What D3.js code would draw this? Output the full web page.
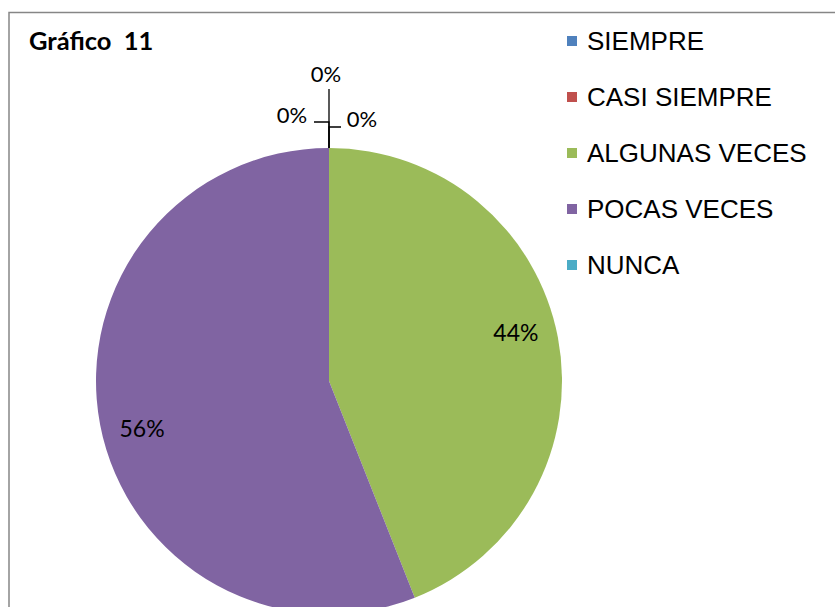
<!DOCTYPE html>
<html>
<head>
<meta charset="utf-8">
<script src="https://cdn.jsdelivr.net/npm/d3@7"></script>
<style>
  body { margin: 0; background: #fff; }
  svg { display: block; }
</style>
</head>
<body>
<div id="chart"></div>
<script>
// Chart data
const categories = ["SIEMPRE", "CASI SIEMPRE", "ALGUNAS VECES", "POCAS VECES", "NUNCA"];
const values = [0, 0, 44, 56, 0];
const colors = ["#4F81BD", "#C0504D", "#9BBB59", "#8064A2", "#4BACC6"];
const chartTitle = "Gráfico  11";

const W = 835, H = 607;
const cx = 329, cy = 381, radius = 233;

const svg = d3.select("#chart")
    .append("svg")
    .attr("width", W)
    .attr("height", H);

// Outer chart border (runs off the right and bottom edge)
svg.append("rect")
    .attr("x", 9)
    .attr("y", 12.5)
    .attr("width", 900)
    .attr("height", 700)
    .attr("fill", "#fff")
    .attr("stroke", "#868686")
    .attr("stroke-width", 1.5);

// Title
svg.append("text")
    .attr("x", 29)
    .attr("y", 50)
    .attr("xml:space", "preserve")
    .style("white-space", "pre")
    .style("font-family", "Lato, 'Open Sans', sans-serif")
    .style("font-weight", "bold")
    .style("font-size", "25.5px")
    .style("fill", "#000")
    .text(chartTitle);

const total = d3.sum(values);
const data = categories.map((c, i) => ({ name: c, value: values[i], color: colors[i] }));

const pie = d3.pie()
    .value(d => d.value)
    .sort(null);

const arc = d3.arc()
    .innerRadius(0)
    .outerRadius(radius);

const g = svg.append("g")
    .attr("transform", `translate(${cx},${cy})`);

const arcs = pie(data);

g.selectAll("path.slice")
    .data(arcs)
    .enter()
    .append("path")
    .attr("class", "slice")
    .attr("d", arc)
    .attr("fill", d => d.data.color);

const pct = v => Math.round(v / total * 100) + "%";
const labelFont = "Lato, 'Open Sans', sans-serif";

// label spot: a bit inside the rim, nudged slightly counter-clockwise like the original
const labelR = 193;
const labelShift = -3.6 * Math.PI / 180;
const labelPos = d => {
    const a = (d.startAngle + d.endAngle) / 2 + labelShift;
    return [labelR * Math.sin(a), -labelR * Math.cos(a)];
};

// Labels inside non-zero slices
g.selectAll("text.inside")
    .data(arcs.filter(d => d.data.value > 0))
    .enter()
    .append("text")
    .attr("class", "inside")
    .attr("transform", d => `translate(${labelPos(d)})`)
    .attr("text-anchor", "middle")
    .attr("dy", "0.36em")
    .style("font-family", labelFont)
    .style("font-size", "23px")
    .text(d => pct(d.data.value));

// Zero slices: labels pulled out above the pie with leader lines
const zeroLeaders = {
    "SIEMPRE": { elbow: -26, endX: -15, lx: -37, ly: -33 },
    "CASI SIEMPRE": { elbow: -21, endX: 12, lx: 33, ly: -29 },
    "NUNCA": { elbow: -59, endX: 0, lx: -3, ly: -74 }
};

arcs.filter(d => d.data.value === 0).forEach(d => {
    const o = zeroLeaders[d.data.name];
    const ex = radius * Math.sin(d.startAngle);
    const ey = -radius * Math.cos(d.startAngle);
    g.append("polyline")
        .attr("points", `${ex},${ey} ${ex},${ey + o.elbow} ${ex + o.endX},${ey + o.elbow}`)
        .attr("fill", "none")
        .attr("stroke", "#000")
        .attr("stroke-width", 1.3);
    g.append("text")
        .attr("x", ex + o.lx)
        .attr("y", ey + o.ly)
        .attr("text-anchor", "middle")
        .attr("dy", "0.36em")
        .style("font-family", labelFont)
        .style("font-size", "22px")
        .text(pct(d.data.value));
});

// Legend
const legend = svg.append("g")
    .attr("transform", "translate(567, 41)");

data.forEach((d, i) => {
    const row = legend.append("g")
        .attr("transform", `translate(0, ${i * 56})`);
    row.append("rect")
        .attr("x", 0)
        .attr("y", -5)
        .attr("width", 10)
        .attr("height", 10)
        .attr("fill", d.color);
    row.append("text")
        .attr("x", 20)
        .attr("y", 0)
        .attr("dy", "0.35em")
        .style("font-family", "'Liberation Sans', Arial, sans-serif")
        .style("font-size", "26px")
        .text(d.name);
});
</script>
</body>
</html>
